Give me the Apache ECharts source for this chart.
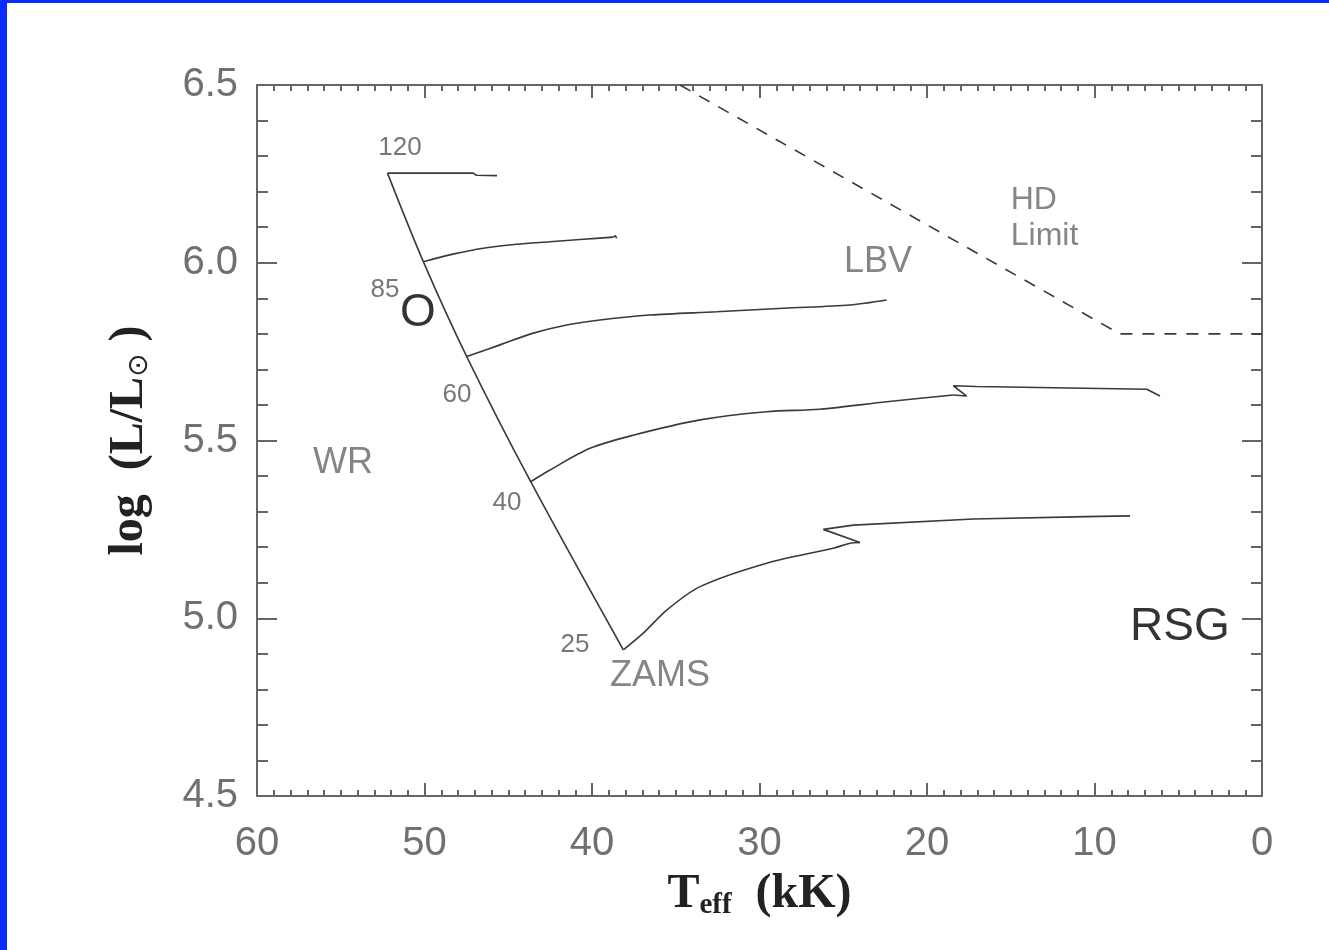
<!DOCTYPE html>
<html>
<head>
<meta charset="utf-8">
<script src="https://cdn.jsdelivr.net/npm/echarts@6/dist/echarts.min.js"></script>
<style>
html, body { margin: 0; padding: 0; background: #fff; }
#main { width: 1329px; height: 950px; }
</style>
</head>
<body>
<div id="main"></div>
<script>
// HR diagram: Teff (kK) vs log L/Lsun
var xMin = 0, xMax = 60, xStep = 10;
var yMin = 4.5, yMax = 6.5, yStep = 0.5;

var zams = [[52.21, 6.252], [50.07, 6.003], [47.48, 5.736], [43.66, 5.384], [38.13, 4.911]];
var track120 = [[52.21, 6.252], [47.1, 6.252], [46.9, 6.246], [45.67, 6.245]];
var track85 = [[50.07, 6.003], [48.24, 6.025], [46.49, 6.041], [44.5, 6.052], [42.51, 6.059],
    [40.52, 6.066], [38.73, 6.072], [38.6, 6.076], [38.53, 6.069]];
var track60 = [[47.48, 5.736], [45.49, 5.769], [43.5, 5.802], [41.51, 5.825], [39.52, 5.839],
    [36.54, 5.853], [32.56, 5.862], [28.58, 5.872], [24.6, 5.881], [22.41, 5.895]];
var track40 = [[43.66, 5.384], [42.51, 5.417], [40.12, 5.478], [37.53, 5.515], [33.55, 5.558],
    [29.57, 5.581], [26.39, 5.588], [22.4, 5.609], [18.43, 5.628], [17.63, 5.625],
    [18.43, 5.654], [17.04, 5.652], [6.88, 5.644], [6.09, 5.625]];
var track25 = [[38.13, 4.911], [36.94, 4.958], [35.54, 5.023], [33.55, 5.089], [29.57, 5.155],
    [25.6, 5.197], [24.6, 5.211], [24.0, 5.213], [26.19, 5.25], [24.4, 5.262],
    [17.23, 5.279], [10.47, 5.286], [7.88, 5.288]];
var hdLimit = [[34.75, 6.5], [8.5, 5.8], [0, 5.8]];

// text labels: [text, Teff, logL]
var massLabels = [['120', 51.46, 6.323], ['85', 52.36, 5.923], ['60', 48.06, 5.628],
    ['40', 45.07, 5.324], ['25', 41.01, 4.925]];
var regionLabels = [['WR', 54.87, 5.437], ['LBV', 22.93, 6.002], ['ZAMS', 35.94, 4.838]];
var hdLabels = [['HD', 15.0, 6.177], ['Limit', 15.0, 6.075]];
var classLabels = [['O', 50.39, 5.859], ['RSG', 4.9, 4.975]];

var axisGray = '#666';
var lineGray = '#3a3a3a';

function toPoints(list) {
    return list.map(function (d) { return { name: d[0], value: [d[1], d[2]] }; });
}

function lineSeries(data, smooth, dashed) {
    return {
        type: 'line',
        data: data,
        showSymbol: false,
        symbol: 'none',
        silent: true,
        smooth: smooth || false,
        lineStyle: { color: lineGray, width: 1.6, type: dashed ? [12, 10] : 'solid' }
    };
}

function textSeries(list, label) {
    return {
        type: 'scatter',
        data: toPoints(list),
        symbolSize: 0,
        silent: true,
        label: Object.assign({ show: true, position: 'inside', formatter: '{b}' }, label)
    };
}

function xAxisDef(pos, showLabel) {
    return {
        type: 'value', position: pos, min: xMin, max: xMax, interval: xStep, inverse: true,
        axisLine: { show: true, onZero: false, lineStyle: { color: axisGray, width: 2 } },
        axisTick: { show: true, inside: true, length: 13, lineStyle: { color: axisGray, width: 2 } },
        minorTick: { show: true, splitNumber: 10, length: 6, lineStyle: { color: axisGray, width: 2 } },
        splitLine: { show: false },
        axisLabel: { show: showLabel, margin: 28, fontSize: 40, color: '#707070', fontFamily: 'Liberation Sans' }
    };
}

function yAxisDef(pos, showLabel) {
    return {
        type: 'value', position: pos, min: yMin, max: yMax, interval: yStep,
        axisLine: { show: true, onZero: false, lineStyle: { color: axisGray, width: 2 } },
        axisTick: { show: true, inside: true, length: 20, lineStyle: { color: axisGray, width: 2 } },
        minorTick: { show: true, splitNumber: 5, length: 11, lineStyle: { color: axisGray, width: 2 } },
        splitLine: { show: false },
        axisLabel: {
            show: showLabel, margin: 19, fontSize: 40, color: '#707070', fontFamily: 'Liberation Sans',
            formatter: function (v) { return v.toFixed(1); }
        }
    };
}

var xBottom = xAxisDef('bottom', true);
xBottom.name = '{b|T}{s|eff}{b|  (kK)}';
xBottom.nameLocation = 'middle';
xBottom.nameGap = 66;
xBottom.nameTextStyle = {
    rich: {
        b: { fontSize: 48, fontWeight: 'bold', fontFamily: 'Liberation Serif', color: '#222', lineHeight: 54 },
        s: { fontSize: 29, fontWeight: 'bold', fontFamily: 'Liberation Serif', color: '#222', lineHeight: 30, padding: [22, 0, 0, 0] }
    }
};

var yLeft = yAxisDef('left', true);
yLeft.name = '{b|log  (L/L}{s|⊙}{b| )}';
yLeft.nameLocation = 'middle';
yLeft.nameRotate = 90;
yLeft.nameGap = 100;
yLeft.nameTextStyle = {
    rich: {
        b: { fontSize: 48, fontWeight: 'bold', fontFamily: 'Liberation Serif', color: '#222', lineHeight: 54 },
        s: { fontSize: 28, fontFamily: 'DejaVu Sans', color: '#222', lineHeight: 30, padding: [20, 0, 0, 0] }
    }
};

var option = {
    animation: false,
    backgroundColor: '#fff',
    grid: { left: 257, top: 85, right: 67, bottom: 154, containLabel: false, outerBoundsMode: 'none' },
    xAxis: [xBottom, xAxisDef('top', false)],
    yAxis: [yLeft, yAxisDef('right', false)],
    graphic: [
        { type: 'rect', left: 0, top: 0, shape: { width: 7, height: 950 }, style: { fill: '#0a2cff' } },
        { type: 'rect', left: 0, top: 0, shape: { width: 1329, height: 3 }, style: { fill: '#0a2cff' } }
    ],
    series: [
        lineSeries(zams, 0.3),
        lineSeries(track120),
        lineSeries(track85.slice(0, 7), 0.3),
        lineSeries(track85.slice(6)),
        lineSeries(track60, 0.3),
        lineSeries(track40.slice(0, 9), 0.3),
        lineSeries(track40.slice(8)),
        lineSeries(track25.slice(0, 8), 0.3),
        lineSeries(track25.slice(7)),
        lineSeries(hdLimit, false, true),
        textSeries(massLabels, { fontSize: 26, color: '#555', fontFamily: 'Liberation Sans' }),
        textSeries(regionLabels, { fontSize: 36, color: '#666', fontFamily: 'Liberation Sans' }),
        textSeries(hdLabels, { fontSize: 32, color: '#666', fontFamily: 'Liberation Sans', position: 'right', distance: 0 }),
        textSeries(classLabels, { fontSize: 46, color: '#000', fontFamily: 'Liberation Sans' })
    ]
};

var chart = echarts.init(document.getElementById('main'));
chart.setOption(option);
</script>
</body>
</html>
